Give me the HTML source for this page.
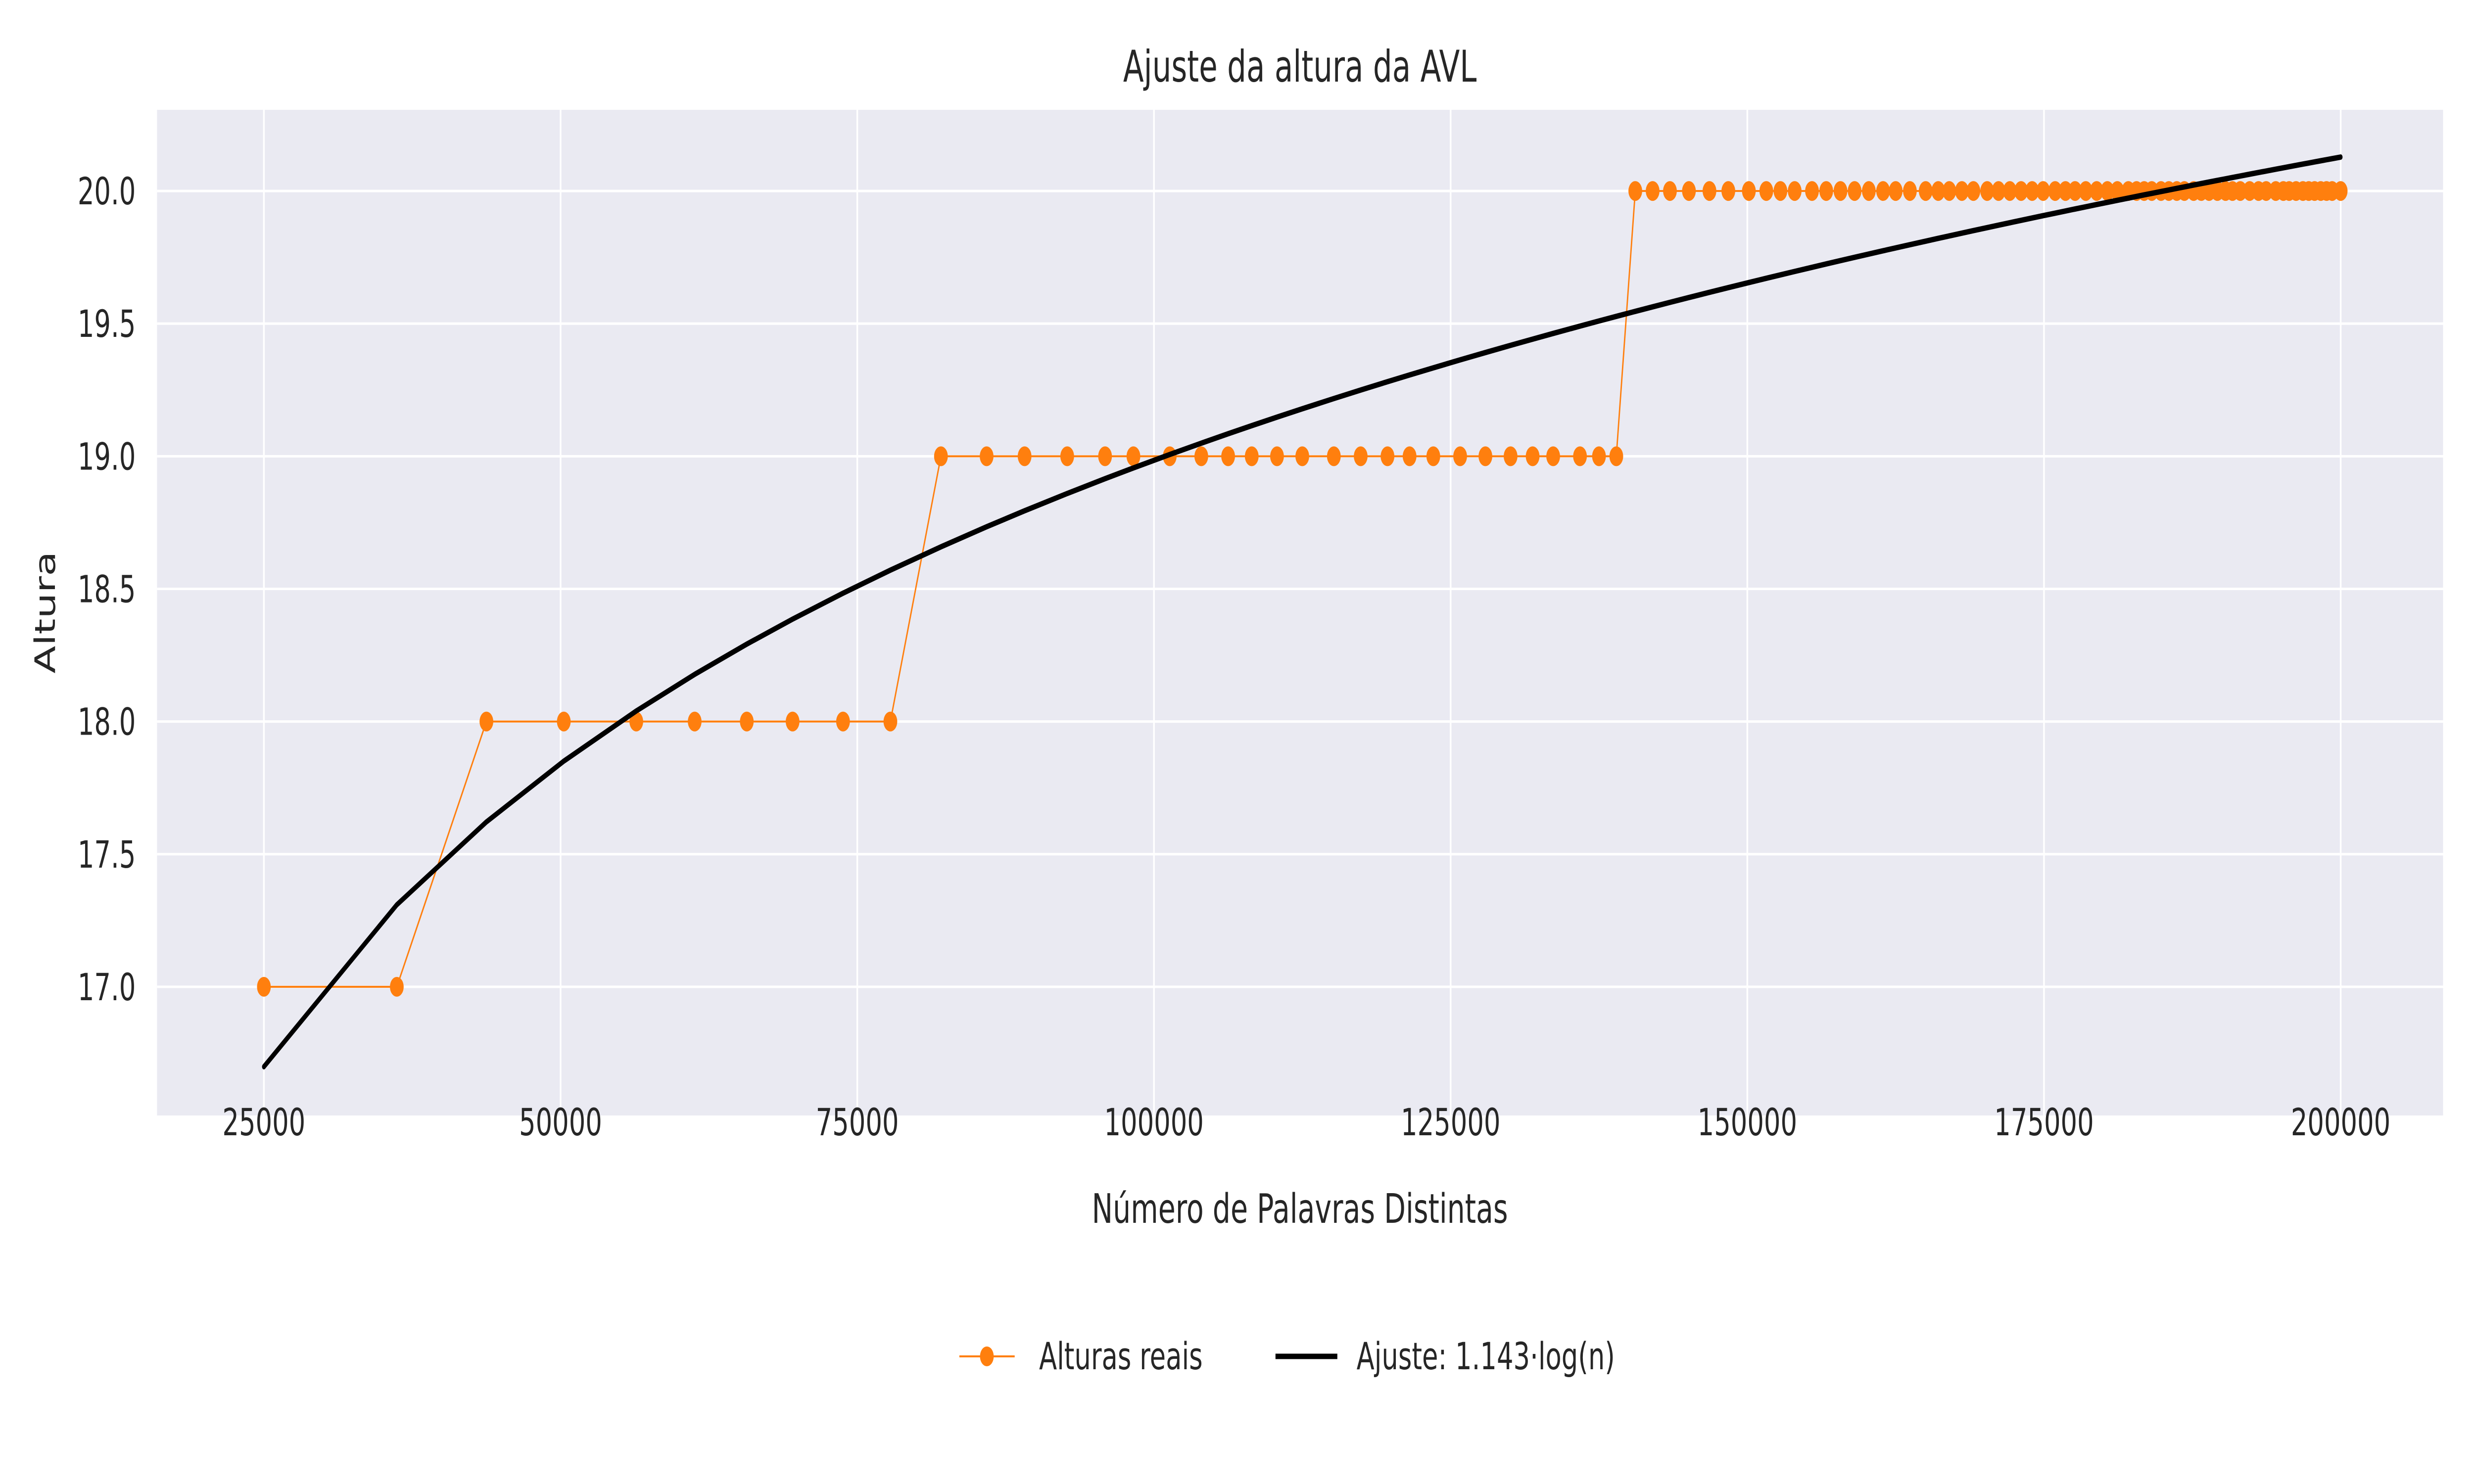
<!DOCTYPE html>
<html><head><meta charset="utf-8"><style>
html,body{margin:0;padding:0;background:#fff;width:100%;height:100%;overflow:hidden;}
svg{display:block;width:100vw;height:100vh;font-family:"DejaVu Sans","Liberation Sans",sans-serif;}
</style></head><body>
<svg id="chart" viewBox="0 0 7200 3000" preserveAspectRatio="none" xmlns="http://www.w3.org/2000/svg">
<rect x="457" y="222" width="6653" height="2033" fill="#eaeaf2"/>
<g id="grid"></g>
<g id="ticks"></g>
<g id="series"></g>
<text x="3783" y="165" font-size="88" text-anchor="middle" fill="#262626">Ajuste da altura da AVL</text>
<text x="3783" y="2472" font-size="82" text-anchor="middle" fill="#262626">Número de Palavras Distintas</text>
<text x="160" y="1238" font-size="82" text-anchor="middle" fill="#262626" transform="rotate(-90 160 1238)">Altura</text>
<g>
<g>
<line x1="2792" y1="2742" x2="2953" y2="2742" stroke="#ff7f0e" stroke-width="4"/>
<circle cx="2872" cy="2742" r="20" fill="#ff7f0e"/>
<text x="3024" y="2768" font-size="76" fill="#262626">Alturas reais</text>
</g>
<g>
<line x1="3712" y1="2742" x2="3892" y2="2742" stroke="#000" stroke-width="11"/>
<text x="3948" y="2768" font-size="76" fill="#262626">Ajuste: 1.143·log(n)</text>
</g>
</g>
</svg>
<script>
const xs = [25000,36200,43750,50270,56380,61300,65690,69550,73800,77790,82050,85900,89100,92690,95880,98270,101330,103990,106250,108240,110370,112500,115160,117420,119680,121540,123540,125800,127930,130050,131910,133640,135900,137500,138960,140560,142020,143480,145080,146810,148400,150130,151600,152790,153990,155450,156650,157850,159040,160240,161440,162500,163700,165030,166090,167020,168080,169050,170210,171170,172120,173070,174000,174930,175940,176810,177620,178520,179440,180340,181180,182110,182800,183440,184080,184860,185520,186190,186830,187610,188250,188910,189610,190300,190880,191540,192330,193080,193720,194530,195170,195660,196240,196820,197310,197800,198320,198810,199280,200000];
const heights = [17,17,18,18,18,18,18,18,18,18,19,19,19,19,19,19,19,19,19,19,19,19,19,19,19,19,19,19,19,19,19,19,19,19,19,20,20,20,20,20,20,20,20,20,20,20,20,20,20,20,20,20,20,20,20,20,20,20,20,20,20,20,20,20,20,20,20,20,20,20,20,20,20,20,20,20,20,20,20,20,20,20,20,20,20,20,20,20,20,20,20,20,20,20,20,20,20,20,20,20];
const fitCoef = [1.143];
const xTicks = [25000,50000,75000,100000,125000,150000,175000,200000];
const yTicks = [17.0,17.5,18.0,18.5,19.0,19.5,20.0];

const X0=457,X1=7110,Y0=222,Y1=2255;
const xmin=15995,xmax=208628,ymin=16.515,ymax=20.306;
const sx=v=>X0+(v-xmin)/(xmax-xmin)*(X1-X0);
const sy=v=>Y1-(v-ymin)/(ymax-ymin)*(Y1-Y0);
const NS="http://www.w3.org/2000/svg";
function mk(tag,attrs,parent){const e=document.createElementNS(NS,tag);for(const k in attrs)e.setAttribute(k,attrs[k]);parent.appendChild(e);return e;}
const grid=document.getElementById('grid'),ticks=document.getElementById('ticks'),series=document.getElementById('series');
xTicks.forEach(t=>{
  const g=mk('line',{x1:sx(t),x2:sx(t),y1:Y0,y2:Y1,stroke:'#fff','stroke-width':5},grid);
  
  
  const l=mk('text',{x:sx(t),y:2295,'font-size':76,'text-anchor':'middle',fill:'#262626'},ticks);
  l.textContent=String(t);
  
  
});
yTicks.forEach(t=>{
  const g=mk('line',{x1:X0,x2:X1,y1:sy(t),y2:sy(t),stroke:'#fff','stroke-width':5},grid);
  
  
  const l=mk('text',{x:395,y:sy(t)+27,'font-size':76,'text-anchor':'end',fill:'#262626'},ticks);
  l.textContent=t.toFixed(1);
  
  
});
const pts=xs.map((x,i)=>sx(x)+','+sy(heights[i])).join(' ');
const pl=mk('polyline',{points:pts,fill:'none',stroke:'#ff7f0e','stroke-width':4},series);


xs.forEach((x,i)=>{
  const c=mk('circle',{cx:sx(x),cy:sy(heights[i]),r:20,fill:'#ff7f0e'},series);
  
  
});
const fpts=xs.map(x=>sx(x)+','+sy(fitCoef[0]*Math.log2(x))).join(' ');
const fl=mk('polyline',{points:fpts,fill:'none',stroke:'#000','stroke-width':11,'stroke-linecap':'round','stroke-linejoin':'round'},series);


</script>
</body></html>
